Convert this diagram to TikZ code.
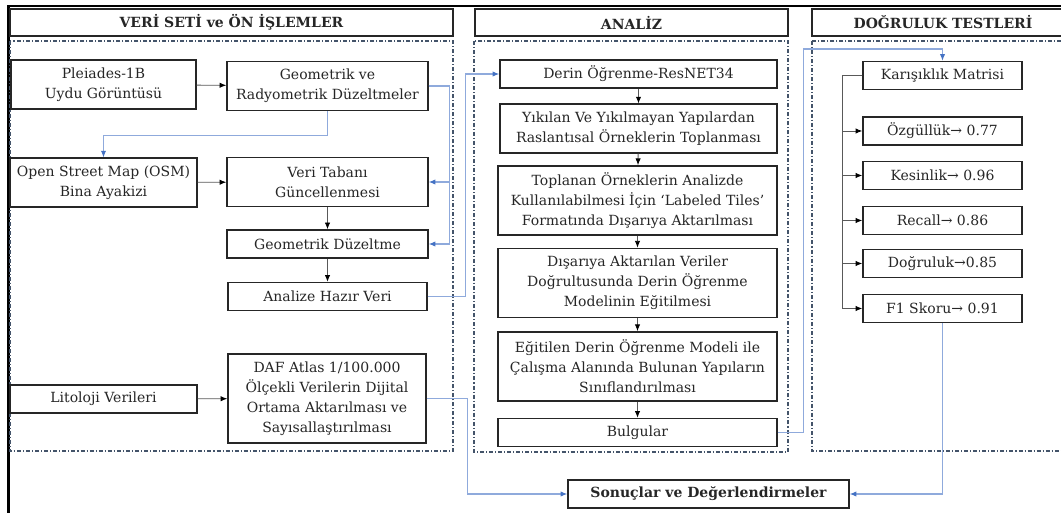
\documentclass[tikz,border=0pt]{standalone}
\usepackage{fontspec}
\setmainfont{DejaVu Serif}
\usepackage{tikz}
\usetikzlibrary{positioning,arrows.meta}
\definecolor{framegray}{HTML}{44546A}
\definecolor{linkblue}{HTML}{8FAADC}
\definecolor{tipblue}{HTML}{4472C4}
\definecolor{linkgray}{HTML}{595959}
\definecolor{inkgray}{HTML}{262626}

\begin{document}
\begin{tikzpicture}[x=0.75pt, y=-0.75pt,
			font=\fontsize{10.5}{15}\selectfont, text=inkgray,
			box/.style={draw=black!85, line width=1.1pt, fill=white, align=center, inner sep=1pt, minimum height=21pt},
			head/.style={box, font=\fontsize{10.5}{15}\selectfont\bfseries, minimum height=20.25pt},
			tall2/.style={minimum height=36.5pt},
			tall3/.style={minimum height=52pt},
			tall4/.style={minimum height=67pt},
			region/.style={draw=framegray, line width=0.9pt, dash pattern=on 3pt off 1.5pt on 0.8pt off 1.5pt},
			bline/.style={draw=linkblue, line width=0.8pt, -{Latex[length=5pt,width=4pt,color=tipblue]}},
			gline/.style={draw=linkgray, line width=0.6pt, -{Latex[length=5pt,width=4pt,color=black]}},
		]
		\useasboundingbox (0,0) rectangle (1061,513);
		\draw[line width=1.6pt] (8.5,513) -- (8.5,6) -- (1061,6);

		% headers and regions
		\node[head, minimum width=332.25pt] (hdVeri) at (231.5,22.5) {VERİ SETİ ve ÖN İŞLEMLER};
		\node[head, minimum width=234.75pt] (hdAnaliz) at (631.5,22.5) {ANALİZ};
		\node[head, minimum width=196.5pt] (hdTest) at (943,22.5) {DOĞRULUK TESTLERİ};
		\draw[region] (10,41) rectangle (453,451);
		\draw[region] (474,41) rectangle (788,452);
		\draw[region] (812,41) rectangle (1075,451);

		% veri seti
		\node[box, tall2, minimum width=138.75pt] (pleiades) at (103.5,84.5) {Pleiades-1B\\Uydu Görüntüsü};
		\node[box, tall2, minimum width=150.75pt] (geoRad) at (327.5,86) {Geometrik ve\\Radyometrik Düzeltmeler};
		\node[box, tall2, minimum width=140.25pt] (osm) at (103.5,182.5) {Open Street Map (OSM)\\Bina Ayakizi};
		\node[box, tall2, minimum width=150.75pt] (veriTab) at (327.5,182) {Veri Tabanı\\Güncellenmesi};
		\node[box, minimum width=150.75pt] (geoDuz) at (327.5,244) {Geometrik Düzeltme};
		\node[box, minimum width=149.25pt] (hazir) at (327.5,296.5) {Analize Hazır Veri};
		\node[box, minimum width=140.25pt] (litoloji) at (103.5,399) {Litoloji Verileri};
		\node[box, tall4, minimum width=148.5pt] (daf) at (327,398.5) {DAF Atlas 1/100.000\\Ölçekli Verilerin Dijital\\Ortama Aktarılması ve\\Sayısallaştırılması};

		% analiz
		\node[box, minimum width=207.75pt] (derin) at (638.5,74) {Derin Öğrenme-ResNET34};
		\node[box, tall2, minimum width=207.75pt] (yikilan) at (638.5,128.5) {Yıkılan Ve Yıkılmayan Yapılardan\\Raslantısal Örneklerin Toplanması};
		\node[box, tall3, minimum width=209.25pt] (toplanan) at (637.5,200.5) {Toplanan Örneklerin Analizde\\Kullanılabilmesi İçin ‘Labeled Tiles’\\Formatında Dışarıya Aktarılması};
		\node[box, tall3, minimum width=209.25pt] (disariya) at (637.5,283) {Dışarıya Aktarılan Veriler\\Doğrultusunda Derin Öğrenme\\Modelinin Eğitilmesi};
		\node[box, tall3, minimum width=209.25pt] (egitilen) at (637.5,366.5) {Eğitilen Derin Öğrenme Modeli ile\\Çalışma Alanında Bulunan Yapıların\\Sınıflandırılması};
		\node[box, minimum width=209.25pt] (bulgular) at (637.5,432.5) {Bulgular};
		\node[box, font=\fontsize{10.5}{15}\selectfont\bfseries, minimum width=210.75pt] (sonuc) at (708.5,494) {Sonuçlar ve Değerlendirmeler};

		% dogruluk testleri
		\node[box, minimum width=119.25pt] (karisik) at (942.5,75.5) {Karışıklık Matrisi};
		\node[box, minimum width=119.25pt] (ozgul) at (942.5,131) {Özgüllük→ 0.77};
		\node[box, minimum width=119.25pt] (kesin) at (942.5,175.5) {Kesinlik→ 0.96};
		\node[box, minimum width=119.25pt] (recall) at (942.5,220.5) {Recall→ 0.86};
		\node[box, minimum width=119.25pt] (dogruluk) at (942.5,263.5) {Doğruluk→0.85};
		\node[box, minimum width=119.25pt] (f1) at (942.5,308.5) {F1 Skoru→ 0.91};

		\coordinate (bk) at (942.5,49);

		\draw[gline] (pleiades) -- (geoRad);
		\draw[gline] (osm) -- (veriTab);
		\draw[gline] (litoloji) -- (daf);
		\draw[gline] (veriTab) -- (geoDuz);
		\draw[gline] (geoDuz) -- (hazir);
		\draw[bline] (geoRad.south) -- ++(0,24) -| (osm.north);
		\draw[bline] (geoRad.east) -- ++(21,0) |- (veriTab.east);
		\draw[bline] (geoRad.east) -- ++(21,0) |- (geoDuz.east);
		\draw[bline] (hazir.east) -- ++(38,0) |- (derin.west);
		\draw[bline] (daf.east) -- ++(41,0) |- (sonuc.west);

		\draw[gline] (derin) -- (yikilan);
		\draw[gline] (yikilan) -- (toplanan);
		\draw[gline] (toplanan) -- (disariya);
		\draw[gline] (disariya) -- (egitilen);
		\draw[gline] (egitilen) -- (bulgular);
		\draw[bline] (bulgular.east) -- ++(26,0) |- (bk) -- (karisik.north);

		\foreach \n in {ozgul,kesin,recall,dogruluk,f1}
			\draw[gline] (karisik.west) -- ++(-20,0) |- (\n.west);
		\draw[bline] (f1.south) |- (sonuc.east);

		\end{tikzpicture}
\end{document}
